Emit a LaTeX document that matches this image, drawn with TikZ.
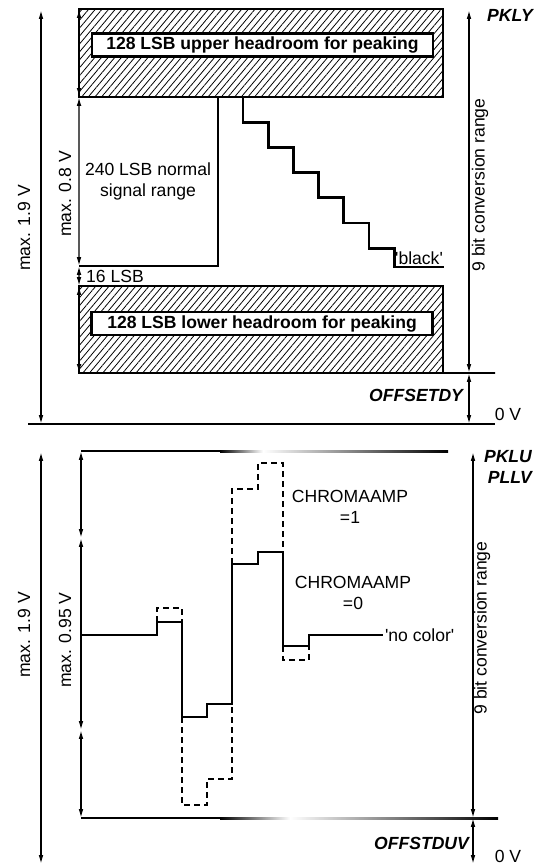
\documentclass[tikz,border=0pt]{standalone}
\usepackage{fontspec}
\setmainfont{Liberation Sans}
\usetikzlibrary{positioning, calc, arrows.meta, patterns.meta}

\begin{document}
\begin{tikzpicture}[x=0.02cm, y=-0.02cm,
            >={Latex[length=5pt, width=2.6pt]},
            dim/.style={<->, line width=0.8pt},
            rail/.style={line width=1pt},
            signal/.style={line width=1.6pt, line join=miter},
            chroma/.style={line width=0.7pt, dash pattern=on 3.4pt off 2.3pt},
            hatchbox/.style={rectangle, draw, line width=1.6pt, minimum width=7.28cm, inner sep=0pt, outer sep=0pt,
                pattern={Lines[angle=50, distance=2.9pt, line width=0.45pt]}},
            headroom/.style={rectangle, draw, line width=1.6pt, fill=white, minimum width=6.82cm, minimum height=0.46cm,
                inner sep=1pt, font=\bfseries},
            lbl/.style={inner sep=1pt},
            reg/.style={inner sep=1pt, font=\bfseries\itshape},
            vlbl/.style={rotate=90, inner sep=1pt}
        ]
            \useasboundingbox (0,0) rectangle (535,868);

            % luminance
            \node[hatchbox, minimum height=1.76cm] (upper) at (261,53) {};
            \node[hatchbox, minimum height=1.74cm] (lower) at (261,329.5) {};
            \node[headroom] (uphead) at (262.5,45) {128 LSB upper headroom for peaking};
            \node[headroom] (lowhead) at (262,323.5) {128 LSB lower headroom for peaking};

            \coordinate (blk) at (79,266);
            \coordinate (white) at (218,97);
            \coordinate (stair) at (243,97);
            \coordinate (blackend) at (444,267);
            \draw[signal] (blk) -| (white);
            \draw[signal] (stair) foreach \i in {1,...,6} {-- ++(0,25.2) -- ++(25.2,0)} |- (blackend);

            \draw[dim] (upper.north west) -- (upper.south west);
            \draw[dim] (upper.south west) -- (blk);
            \draw[dim] (blk) -- (lower.north west);
            \draw[dim] (lower.north west) -- (lower.south west);

            \coordinate (ytop) at (41,10);
            \coordinate (yzero) at (41,424);
            \coordinate (pkly) at (469,10);
            \coordinate (offy) at (469,373);
            \coordinate (zeroy) at (469,424);
            \draw[rail] (28,424) -- (495,424);
            \draw[rail] (lower.south east) -- (495,373);
            \draw[dim] (ytop) -- (yzero);
            \draw[dim] (pkly) -- (offy);
            \draw[dim] (offy) -- (zeroy);

            \node[vlbl] (maxy) at (24,228) {max. 1.9 V};
            \node[vlbl] (maxnorm) at (65,194) {max. 0.8 V};
            \node[lbl, align=center] (normal) at (148,181) {240 LSB normal\\signal range};
            \node[lbl] (lsb16) at (115,276) {16 LSB};
            \node[lbl] (black) at (419,258) {\textquotesingle black\textquotesingle};
            \node[vlbl] (convy) at (480,185) {9 bit conversion range};
            \node[reg] (pklylbl) at (510,15) {PKLY};
            \node[reg, anchor=east] (offylbl) at (465,395) {OFFSETDY};
            \node[lbl] (zerov1) at (508,414) {0 V};

            % chrominance
            \coordinate (uvtop) at (81,451);
            \coordinate (uvhigh) at (81,538);
            \coordinate (uvlow) at (81,730);
            \coordinate (uvbot) at (81,818);
            \draw[line width=1.2pt] (uvtop) -- (220,451);
            \shade[left color=black, right color=white] (220,450) rectangle (263,452);
            \shade[left color=white, right color=black] (263,450) rectangle (448,452);
            \draw[line width=1.2pt] (uvbot) -- (220,818);
            \shade[left color=black, right color=white] (220,817) rectangle (290,819);
            \shade[left color=white, right color=black] (290,817) rectangle (498,819);

            \draw[dim] (uvtop) -- (uvhigh);
            \draw[dim] (uvhigh) -- (uvlow);
            \draw[dim] (uvlow) -- (uvbot);

            \coordinate (uvmid) at (81,635);
            \coordinate (nocol) at (383,635);
            \draw[line width=0.8pt] (uvmid) -- (131,635);
            \draw[signal] (131,635) -- (157,635) -- (157,622) -- (182,622) -- (182,717) -- (207,717) -- (207,704)
                -- (232,704) -- (232,564) -- (258,564) -- (258,552) -- (283,552) -- (283,646) -- (309,646)
                -- (309,635) -- (333,635);
            \draw[line width=0.8pt] (333,635) -- (nocol);

            \draw[chroma] (157,622) -- (157,608) -- (182,608) -- (182,622);
            \draw[chroma] (182,717) -- (182,805) -- (207,805) -- (207,779) -- (232,779) -- (232,704);
            \draw[chroma] (232,564) -- (232,489) -- (258,489) -- (258,463) -- (283,463) -- (283,552);
            \draw[chroma] (283,646) -- (283,660) -- (309,660) -- (309,646);

            \coordinate (uvytop) at (41,452);
            \coordinate (uvyzero) at (41,864);
            \coordinate (pklu) at (473,452);
            \coordinate (offuv) at (473,818);
            \coordinate (zerouv) at (473,864);
            \draw[dim] (uvytop) -- (uvyzero);
            \draw[dim] (pklu) -- (offuv);
            \draw[dim] (offuv) -- (zerouv);

            \node[vlbl] (maxuv) at (24,635) {max. 1.9 V};
            \node[vlbl] (maxchroma) at (65,640) {max. 0.95 V};
            \node[lbl, align=center] (amp1) at (350,507) {CHROMAAMP\\=1};
            \node[lbl, align=center] (amp0) at (353,593) {CHROMAAMP\\=0};
            \node[lbl, anchor=west] (nocolor) at (nocol) {\textquotesingle no color\textquotesingle};
            \node[vlbl] (convuv) at (482,628) {9 bit conversion range};
            \node[reg, align=right] (pklulbl) at (508,467) {PKLU\\PLLV};
            \node[reg, anchor=east] (offuvlbl) at (471,843) {OFFSTDUV};
            \node[lbl] (zerov2) at (508,856) {0 V};
        \end{tikzpicture}
\end{document}
